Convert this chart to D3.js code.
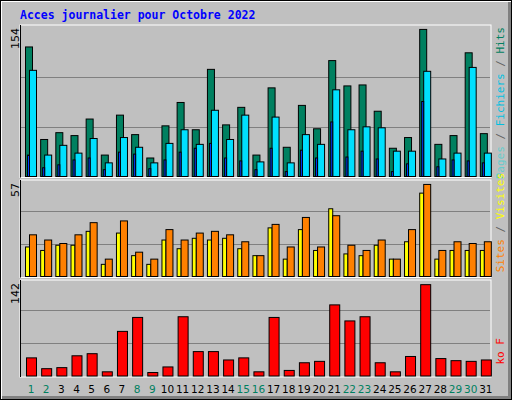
<!DOCTYPE html>
<html>
<head>
<meta charset="UTF-8" />
<script src="https://cdn.jsdelivr.net/npm/d3@7"></script>
<style>body{margin:0}svg{display:block}</style>
</head>
<body>
<svg width="512" height="400"></svg>
<script>
var days = d3.range(1, 32)
var weekendDays = [1, 2, 8, 9, 15, 16, 22, 23, 29, 30]
var hits = [133, 38, 45, 42, 59, 22, 63, 43, 19, 52, 76, 48, 110, 53, 71, 22, 91, 30, 73, 49, 119, 93, 94, 67, 29, 40, 151, 33, 42, 127, 44]
var files = [109, 22, 32, 24, 39, 14, 40, 30, 14, 34, 48, 33, 68, 38, 63, 15, 61, 14, 43, 33, 89, 48, 51, 50, 26, 26, 108, 18, 24, 112, 24]
var pages = [22, 9, 12, 17, 19, 7, 25, 23, 8, 17, 25, 29, 34, 19, 16, 7, 29, 5, 27, 19, 56, 20, 26, 18, 5, 13, 77, 10, 17, 16, 14]
var visites = [17, 15, 18, 18, 26, 7, 25, 12, 7, 21, 16, 22, 21, 22, 16, 12, 28, 10, 27, 15, 39, 13, 12, 18, 10, 20, 48, 10, 15, 15, 15]
var sites = [24, 21, 19, 24, 31, 10, 32, 14, 10, 27, 21, 25, 26, 24, 20, 12, 30, 17, 34, 17, 35, 18, 15, 21, 10, 27, 53, 15, 20, 19, 20]
var ko = [26, 10.5, 12, 29, 32, 6, 64, 84, 5, 13, 85, 35, 35, 23, 26, 6, 84, 8, 19, 21, 102, 79, 85, 19, 6, 28, 131, 25, 22, 21, 23]
var maxLabels = [154, 57, 142]

var svg = d3.select("svg")
var font = "'DejaVu Sans Mono', monospace"

// fond et cadre
svg.append("rect").attr("width", 512).attr("height", 400).attr("fill", "#000")
svg.append("rect").attr("x", 1).attr("y", 1).attr("width", 510).attr("height", 398).attr("fill", "#fff")
svg.append("rect").attr("x", 2).attr("y", 2).attr("width", 509).attr("height", 397).attr("fill", "#808080")
svg.append("rect").attr("x", 2).attr("y", 2).attr("width", 506).attr("height", 394).attr("fill", "#c0c0c0")

svg.append("text").attr("x", 20).attr("y", 19)
  .attr("font-family", font).attr("font-weight", "bold").attr("font-size", 11.5)
  .attr("fill", "#0000ff").text("Acces journalier pour Octobre 2022")

var x = d3.scaleBand().domain(days).range([20, 490]).paddingInner(0).paddingOuter(0)

var panels = [
  {top: 25, bottom: 176.5, span: 150, max: 154},
  {top: 180, bottom: 276.5, span: 99, max: 57},
  {top: 280, bottom: 376, span: 99, max: 142}
]

panels.forEach(function(p, i) {
  p.y = d3.scaleLinear().domain([0, p.max]).range([p.bottom, p.bottom - p.span])
  svg.append("rect").attr("x", 20).attr("y", p.top).attr("width", 471).attr("height", p.bottom - p.top + 1)
    .attr("fill", "#c0c0c0").attr("stroke", "#fff")
  svg.append("line").attr("x1", 20.5).attr("x2", 20.5).attr("y1", p.top).attr("y2", p.bottom + 1).attr("stroke", "#000")
  ;[1 / 3, 2 / 3].forEach(function(f) {
    var yy = Math.round(p.y(p.max * f)) + 0.5
    svg.append("line").attr("x1", 21).attr("x2", 490).attr("y1", yy).attr("y2", yy).attr("stroke", "#808080").attr("stroke-width", 1)
  })
  svg.append("text").attr("transform", "translate(19," + (p.top + 3) + ") rotate(-90)")
    .attr("text-anchor", "end").attr("font-family", "'DejaVu Sans', sans-serif").attr("font-size", 11)
    .attr("fill", "#000").text(maxLabels[i])
})

function bars(data, p, off, w, color) {
  svg.append("g").selectAll("rect").data(data).enter().append("rect")
    .attr("x", function(d, i) { return x(days[i]) + off + 0.5 })
    .attr("y", function(d) { return p.y(d) })
    .attr("width", w)
    .attr("height", function(d) { return p.bottom - p.y(d) })
    .attr("fill", color).attr("stroke", "#000").attr("stroke-width", 1)
}

bars(hits, panels[0], 5, 7, "#008060")
bars(files, panels[0], 9, 7, "#00e0ff")
bars(pages, panels[0], 7, 2, "#0040ff")
bars(visites, panels[1], 5, 4, "#ffff00")
bars(sites, panels[1], 9, 7, "#ff8000")
bars(ko, panels[2], 6, 10, "#ff0000")

// étiquettes des jours
svg.append("g").selectAll("text").data(days).enter().append("text")
  .attr("x", function(d) { return x(d) + 11 })
  .attr("y", 393).attr("text-anchor", "middle")
  .attr("font-family", "'DejaVu Sans', sans-serif").attr("font-size", 10.5)
  .attr("fill", function(d) { return weekendDays.indexOf(d) >= 0 ? "#008060" : "#000" })
  .text(function(d) { return d })

// légendes verticales à droite
function legend(y0, parts) {
  var t = svg.append("text").attr("transform", "translate(504," + y0 + ") rotate(-90)")
    .attr("text-anchor", "end").attr("font-family", font).attr("font-size", 11)
  parts.forEach(function(pt) { t.append("tspan").attr("fill", pt[1]).text(pt[0]) })
}
legend(27, [["Pages", "#66cccc"], [" / ", "#606060"], ["Fichiers", "#00c0e0"], [" / ", "#606060"], ["Hits", "#008060"]])
legend(173, [["Sites", "#ff8000"], [" / ", "#606060"], ["Visites", "#ffff00"]])
legend(338, [["ko F", "#ff0000"]])
</script>
</body>
</html>
